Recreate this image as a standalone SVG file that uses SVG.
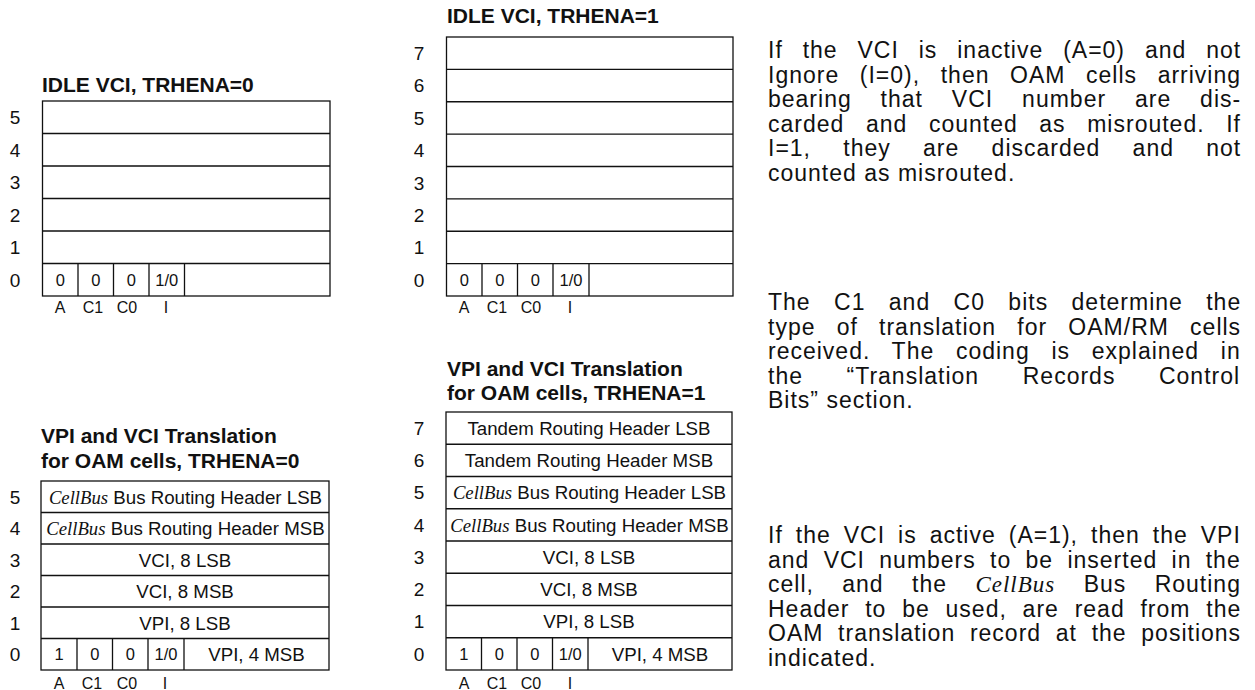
<svg xmlns="http://www.w3.org/2000/svg" width="1255" height="690" viewBox="0 0 1255 690">
<style>
text{font-family:"Liberation Sans",Arial,sans-serif;fill:#111}
.t{font-weight:bold;font-size:21px}
.n{font-size:19px;text-anchor:middle}
.c{font-size:18.7px;text-anchor:middle}
.d{font-size:16.5px;text-anchor:middle}
.b{font-size:16px;text-anchor:middle}
.i{font-family:"Liberation Serif","Times New Roman",serif;font-style:italic}
.box{fill:#fff;stroke:#111;stroke-width:1.3}
.ln{stroke:#111;stroke-width:1.3;fill:none}
.p{font-size:23px;letter-spacing:1px}
</style>

<g id="idle-trhena0">
<text class="t" x="42" y="92">IDLE VCI, TRHENA=0</text>
<rect class="box" x="42.5" y="101" width="287.5" height="195"/>
<path class="ln" d="M42.5 133.5H330M42.5 166H330M42.5 198.5H330M42.5 231H330M42.5 263.5H330M78 263.5V296M113.5 263.5V296M149 263.5V296M184.5 263.5V296"/>
<text class="n" x="15" y="124">5</text>
<text class="n" x="15" y="156.5">4</text>
<text class="n" x="15" y="189">3</text>
<text class="n" x="15" y="221.5">2</text>
<text class="n" x="15" y="254">1</text>
<text class="n" x="15" y="286.5">0</text>
<text class="d" x="60.25" y="285.8">0</text>
<text class="d" x="95.75" y="285.8">0</text>
<text class="d" x="131.25" y="285.8">0</text>
<text class="d" x="166.75" y="285.8">1/0</text>
<text class="b" x="60" y="313">A</text>
<text class="b" x="93" y="313">C1</text>
<text class="b" x="127" y="313">C0</text>
<text class="b" x="166" y="313">I</text>
</g>

<g id="idle-trhena1">
<text class="t" x="447" y="22.5">IDLE VCI, TRHENA=1</text>
<rect class="box" x="446.5" y="37" width="286.5" height="259"/>
<path class="ln" d="M446.5 69.4H733M446.5 101.75H733M446.5 134.1H733M446.5 166.5H733M446.5 198.9H733M446.5 231.25H733M446.5 263.6H733M482 263.6V296M517.5 263.6V296M553 263.6V296M589 263.6V296"/>
<text class="n" x="419" y="60">7</text>
<text class="n" x="419" y="92.4">6</text>
<text class="n" x="419" y="124.7">5</text>
<text class="n" x="419" y="157.1">4</text>
<text class="n" x="419" y="189.5">3</text>
<text class="n" x="419" y="221.9">2</text>
<text class="n" x="419" y="254.2">1</text>
<text class="n" x="419" y="286.6">0</text>
<text class="d" x="464.25" y="285.8">0</text>
<text class="d" x="499.75" y="285.8">0</text>
<text class="d" x="535.25" y="285.8">0</text>
<text class="d" x="571" y="285.8">1/0</text>
<text class="b" x="464" y="313">A</text>
<text class="b" x="497" y="313">C1</text>
<text class="b" x="531" y="313">C0</text>
<text class="b" x="570" y="313">I</text>
</g>

<g id="oam-trhena0">
<text class="t" x="41" y="442.5">VPI and VCI Translation</text>
<text class="t" x="41" y="467.5">for OAM cells, TRHENA=0</text>
<rect class="box" x="41" y="481" width="288" height="189"/>
<path class="ln" d="M41 512.5H329M41 544H329M41 575.5H329M41 607H329M41 638.5H329M77 638.5V670M112.5 638.5V670M148 638.5V670M184 638.5V670"/>
<text class="n" x="15" y="503.5">5</text>
<text class="n" x="15" y="535">4</text>
<text class="n" x="15" y="566.5">3</text>
<text class="n" x="15" y="598">2</text>
<text class="n" x="15" y="629.5">1</text>
<text class="n" x="15" y="661">0</text>
<text class="c" x="185.5" y="503.5"><tspan class="i">CellBus</tspan> Bus Routing Header LSB</text>
<text class="c" x="185.5" y="535"><tspan class="i">CellBus</tspan> Bus Routing Header MSB</text>
<text class="c" x="185" y="566.5">VCI, 8 LSB</text>
<text class="c" x="185" y="598">VCI, 8 MSB</text>
<text class="c" x="185" y="629.5">VPI, 8 LSB</text>
<text class="d" x="59" y="660.2">1</text>
<text class="d" x="94.75" y="660.2">0</text>
<text class="d" x="130.25" y="660.2">0</text>
<text class="d" x="166" y="660.2">1/0</text>
<text class="c" x="256.5" y="661">VPI, 4 MSB</text>
<text class="b" x="59" y="689">A</text>
<text class="b" x="92" y="689">C1</text>
<text class="b" x="127" y="689">C0</text>
<text class="b" x="165" y="689">I</text>
</g>

<g id="oam-trhena1">
<text class="t" x="447" y="375.5">VPI and VCI Translation</text>
<text class="t" x="447" y="399.5">for OAM cells, TRHENA=1</text>
<rect class="box" x="446" y="412" width="286" height="258"/>
<path class="ln" d="M446 444.25H732M446 476.5H732M446 508.75H732M446 541H732M446 573.25H732M446 605.5H732M446 637.75H732M481.5 637.75V670M517 637.75V670M552.5 637.75V670M588 637.75V670"/>
<text class="n" x="419" y="434.9">7</text>
<text class="n" x="419" y="467.2">6</text>
<text class="n" x="419" y="499.4">5</text>
<text class="n" x="419" y="531.7">4</text>
<text class="n" x="419" y="563.9">3</text>
<text class="n" x="419" y="596.2">2</text>
<text class="n" x="419" y="628.4">1</text>
<text class="n" x="419" y="660.7">0</text>
<text class="c" x="589" y="434.9">Tandem Routing Header LSB</text>
<text class="c" x="589" y="467.2">Tandem Routing Header MSB</text>
<text class="c" x="589.5" y="499.4"><tspan class="i">CellBus</tspan> Bus Routing Header LSB</text>
<text class="c" x="589.5" y="531.7"><tspan class="i">CellBus</tspan> Bus Routing Header MSB</text>
<text class="c" x="589" y="563.9">VCI, 8 LSB</text>
<text class="c" x="589" y="596.2">VCI, 8 MSB</text>
<text class="c" x="589" y="628.4">VPI, 8 LSB</text>
<text class="d" x="463.75" y="659.8">1</text>
<text class="d" x="499.25" y="659.8">0</text>
<text class="d" x="534.75" y="659.8">0</text>
<text class="d" x="570.25" y="659.8">1/0</text>
<text class="c" x="660" y="660.7">VPI, 4 MSB</text>
<text class="b" x="464" y="689">A</text>
<text class="b" x="497" y="689">C1</text>
<text class="b" x="531" y="689">C0</text>
<text class="b" x="570" y="689">I</text>
</g>

<g id="notes">
<text class="p" x="768" y="58" style="word-spacing:12.5px">If the VCI is inactive (A=0) and not</text>
<text class="p" x="768" y="82.5" style="word-spacing:13.2px">Ignore (I=0), then OAM cells arriving</text>
<text class="p" x="768" y="107" style="word-spacing:21.5px">bearing that VCI number are dis-</text>
<text class="p" x="768" y="131.5" style="word-spacing:14.2px">carded and counted as misrouted. If</text>
<text class="p" x="768" y="156" style="word-spacing:24.9px">I=1, they are discarded and not</text>
<text class="p" x="768" y="180.5">counted as misrouted.</text>

<text class="p" x="768" y="310" style="word-spacing:16px">The C1 and C0 bits determine the</text>
<text class="p" x="768" y="334.5" style="word-spacing:13.8px">type of translation for OAM/RM cells</text>
<text class="p" x="768" y="359" style="word-spacing:14.3px">received. The coding is explained in</text>
<text class="p" x="768" y="383.5" style="word-spacing:36.2px">the “Translation Records Control</text>
<text class="p" x="768" y="408">Bits” section.</text>

<text class="p" x="768" y="543" style="word-spacing:5.6px">If the VCI is active (A=1), then the VPI</text>
<text class="p" x="768" y="567.5" style="word-spacing:6.9px">and VCI numbers to be inserted in the</text>
<text class="p" x="768" y="592" style="word-spacing:21px">cell, and the <tspan class="i">CellBus</tspan> Bus Routing</text>
<text class="p" x="768" y="616.5" style="word-spacing:8.4px">Header to be used, are read from the</text>
<text class="p" x="768" y="641" style="word-spacing:7.3px">OAM translation record at the positions</text>
<text class="p" x="768" y="665.5">indicated.</text>
</g>
</svg>
